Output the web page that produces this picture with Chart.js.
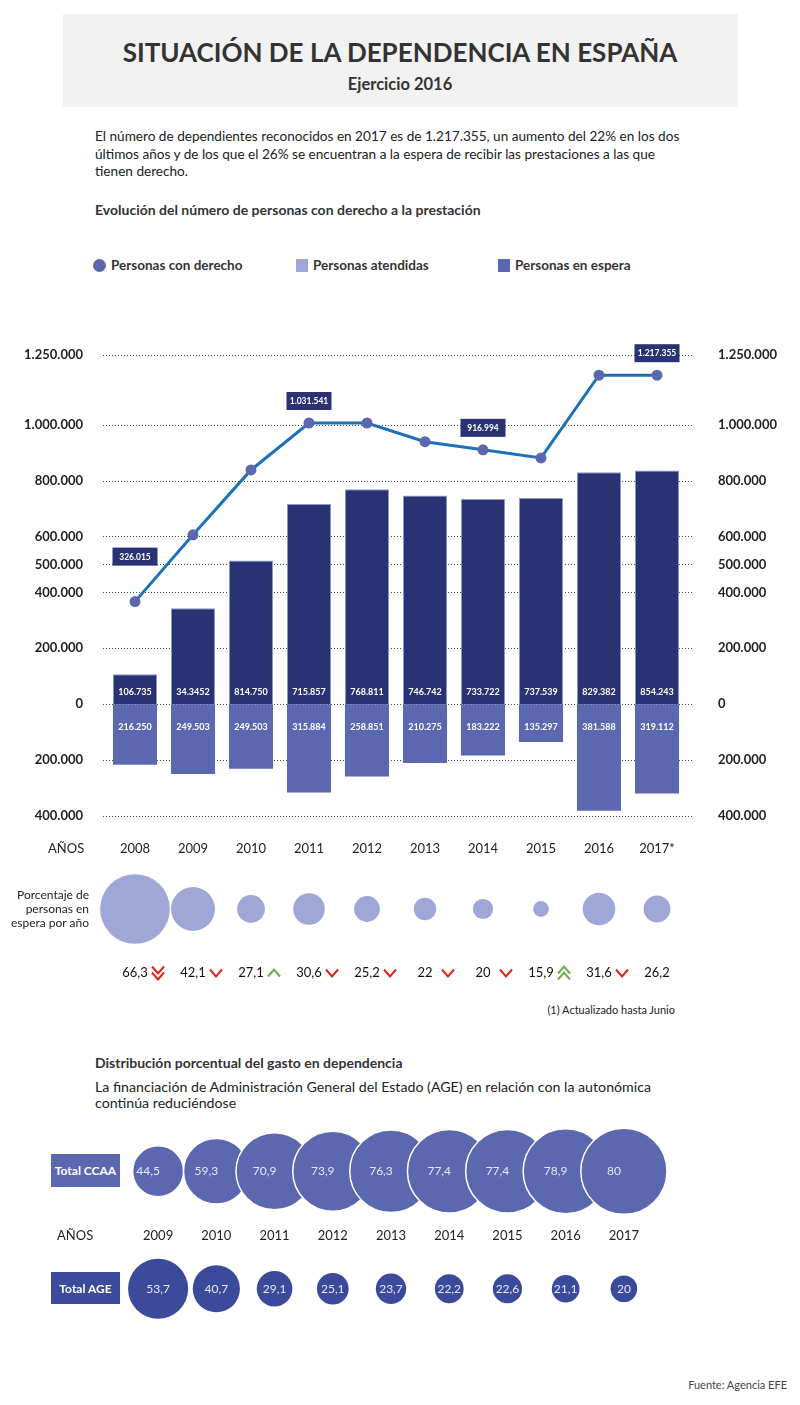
<!DOCTYPE html>
<html lang="es">
<head>
<meta charset="utf-8">
<title>Situación de la dependencia en España</title>
<script src="https://cdn.jsdelivr.net/npm/chart.js@4.4.1/dist/chart.umd.min.js"></script>
<style>
  body { margin: 0; background: #fff; font-family: Lato, "Open Sans", sans-serif; color: #222; }
  #page { position: relative; width: 800px; height: 1405px; overflow: hidden; }
  .t { position: absolute; white-space: nowrap; line-height: 1; }
  canvas { position: absolute; left: 0; }
  .box { position: absolute; color: #fff; font-size: 12px; font-weight: bold; display: flex; align-items: center; justify-content: center; }
  .legend { position: absolute; top: 257px; font-size: 13.5px; font-weight: bold; color: #333; line-height: 16px; }
  .legend span { display: inline-block; vertical-align: -2px; margin-right: 5px; }
</style>
</head>
<body>
<div id="page">
  <div style="position:absolute;left:63px;top:14px;width:675px;height:93px;background:#f2f2f2"></div>
  <div class="t" style="left:0;width:800px;text-align:center;top:39px;font-size:26px;font-weight:bold;color:#333">SITUACIÓN DE LA DEPENDENCIA EN ESPAÑA</div>
  <div class="t" style="left:0;width:800px;text-align:center;top:76px;font-size:16.5px;font-weight:bold;color:#333">Ejercicio 2016</div>

  <div class="t" style="left:95px;top:128px;font-size:13.6px;line-height:17.5px;color:#222">El número de dependientes reconocidos en 2017 es de 1.217.355, un aumento del 22% en los dos<br>últimos años y de los que el 26% se encuentran a la espera de recibir las prestaciones a las que<br>tienen derecho.</div>
  <div class="t" style="left:95px;top:203px;font-size:14px;font-weight:bold;color:#333">Evolución del número de personas con derecho a la prestación</div>

  <div class="legend" style="left:93px"><span style="width:13px;height:13px;border-radius:50%;background:#5b68af"></span>Personas con derecho</div>
  <div class="legend" style="left:296px"><span style="width:12px;height:13px;background:#9fa7d6"></span>Personas atendidas</div>
  <div class="legend" style="left:498px"><span style="width:12px;height:13px;background:#5b68af"></span>Personas en espera</div>

  <canvas id="main" width="800" height="565" style="top:315px"></canvas>
  <div class="t" style="left:48px;top:842px;font-size:13px;color:#222">AÑOS</div>

  <canvas id="pct" width="800" height="130" style="top:860px"></canvas>
  <div class="t" style="left:0;width:89px;text-align:right;top:888px;font-size:12px;line-height:14px;color:#222">Porcentaje de<br>personas en<br>espera por año</div>
  <div class="t" style="left:0;width:675px;text-align:right;top:1004px;font-size:11px;color:#222">(1) Actualizado hasta Junio</div>

  <div class="t" style="left:95px;top:1056px;font-size:14px;font-weight:bold;color:#333">Distribución porcentual del gasto en dependencia</div>
  <div class="t" style="left:95px;top:1079px;font-size:14.2px;line-height:16px;color:#222">La financiación de Administración General del Estado (AGE) en relación con la autonómica<br>continúa reduciéndose</div>

  <canvas id="gasto" width="800" height="225" style="top:1110px"></canvas>
  <div class="box" style="left:51px;top:1154px;width:69px;height:33px;background:#5b68af">Total CCAA</div>
  <div class="box" style="left:51px;top:1272px;width:69px;height:32px;background:#3c4a9c">Total AGE</div>
  <div class="t" style="left:57px;top:1229px;font-size:13px;color:#222">AÑOS</div>

  <div class="t" style="left:0;width:787px;text-align:right;top:1379px;font-size:11px;color:#444">Fuente: Agencia EFE</div>
</div>

<script>
// Evolución del número de personas con derecho a la prestación
const years = ['2008', '2009', '2010', '2011', '2012', '2013', '2014', '2015', '2016', '2017*'];
const atendidas = [106735, 343452, 514000, 715857, 768811, 746742, 733722, 737539, 829382, 836000];
const atendidasLabels = ['106.735', '34.3452', '814.750', '715.857', '768.811', '746.742', '733.722', '737.539', '829.382', '854.243'];
const espera = [216250, 249503, 231000, 315884, 258851, 210275, 183222, 135297, 381588, 319112];
const esperaLabels = ['216.250', '249.503', '249.503', '315.884', '258.851', '210.275', '183.222', '135.297', '381.588', '319.112'];
const conDerecho = [367000, 606000, 838000, 1006000, 1006000, 939000, 910000, 881000, 1177000, 1177000];
const callouts = ['326.015', '', '', '1.031.541', '', '', '916.994', '', '', '1.217.355'];
const yTicks = [1250000, 1000000, 800000, 600000, 500000, 400000, 200000, 0, -200000, -400000];

// Porcentaje de personas en espera por año
const pctEspera = [66.3, 42.1, 27.1, 30.6, 25.2, 22, 20, 15.9, 31.6, 26.2];
const pctLabels = ['66,3', '42,1', '27,1', '30,6', '25,2', '22', '20', '15,9', '31,6', '26,2'];
const trend = ['dd', 'd', 'u', 'd', 'd', 'd', 'd', 'uu', 'd', ''];

// Distribución porcentual del gasto
const yearsGasto = ['2009', '2010', '2011', '2012', '2013', '2014', '2015', '2016', '2017'];
const ccaa = [44.5, 59.3, 70.9, 73.9, 76.3, 77.4, 77.4, 78.9, 80];
const age = [53.7, 40.7, 29.1, 25.1, 23.7, 22.2, 22.6, 21.1, 20];

Chart.defaults.font.family = 'Lato, "Open Sans", sans-serif';
Chart.defaults.animation = false;
Chart.defaults.layout.autoPadding = false;
Chart.defaults.plugins.legend.display = false;
Chart.defaults.plugins.tooltip.enabled = false;

const NAVY = '#293272';
const MID = '#5b68af';
const fmt = v => String(Math.abs(v)).replace(/\B(?=(\d{3})+(?!\d))/g, '.');
const comma = v => String(v).replace('.', ',');

const dottedGrid = {
  id: 'dottedGrid',
  beforeDatasetsDraw(chart) {
    const { ctx, chartArea, scales: { y } } = chart;
    ctx.save();
    ctx.strokeStyle = '#444';
    ctx.lineWidth = 1;
    ctx.setLineDash([1, 2]);
    yTicks.forEach(v => {
      const py = Math.round(y.getPixelForValue(v)) + 0.5;
      ctx.beginPath();
      ctx.moveTo(chartArea.left - 3, py);
      ctx.lineTo(chartArea.right + 7, py);
      ctx.stroke();
    });
    ctx.restore();
  }
};

const mainLabels = {
  id: 'mainLabels',
  afterDatasetsDraw(chart) {
    const { ctx, scales: { x, y } } = chart;
    const zero = y.getPixelForValue(0);
    ctx.save();
    ctx.fillStyle = '#fff';
    ctx.font = 'bold 9px Lato';
    ctx.textAlign = 'center';
    ctx.textBaseline = 'middle';
    years.forEach((_, i) => {
      const px = x.getPixelForValue(i);
      ctx.fillText(atendidasLabels[i], px, zero - 12);
      ctx.fillText(esperaLabels[i], px, zero + 23);
    });
    // recuadros con el valor de la línea
    const pts = chart.getDatasetMeta(2).data;
    callouts.forEach((txt, i) => {
      if (!txt) return;
      const p = pts[i];
      const cy = p.y - (i === 0 ? 45 : 22);
      const w = 45, h = 18;
      ctx.fillStyle = NAVY;
      ctx.fillRect(p.x - w / 2, cy - h / 2, w, h);
      ctx.fillStyle = '#fff';
      ctx.font = 'bold 8.5px Lato';
      ctx.fillText(txt, p.x, cy + 0.5);
    });
    ctx.restore();
  }
};

const yTickOpts = pad => ({
  padding: pad,
  color: '#222',
  font: { size: 13, weight: 'bold' },
  callback: v => fmt(v)
});

new Chart(document.getElementById('main'), {
  data: {
    labels: years,
    datasets: [
      {
        type: 'bar', label: 'Personas atendidas', data: atendidas,
        backgroundColor: NAVY, borderColor: '#8f97cc', borderWidth: { top: 1, left: 1, right: 1, bottom: 0 },
        grouped: false, barPercentage: 0.76, categoryPercentage: 1, order: 2
      },
      {
        type: 'bar', label: 'Personas en espera', data: espera.map(v => -v),
        backgroundColor: MID, borderWidth: 0,
        grouped: false, barPercentage: 0.76, categoryPercentage: 1, order: 2
      },
      {
        type: 'line', label: 'Personas con derecho', data: conDerecho,
        borderColor: '#1d71b8', borderWidth: 3, tension: 0,
        pointRadius: 5.5, pointBackgroundColor: MID, pointBorderWidth: 0, order: 0
      }
    ]
  },
  options: {
    responsive: false,
    layout: { padding: { top: 24, left: 0, right: 0, bottom: 0 } },
    scales: {
      x: {
        offset: true,
        grid: { display: false, drawTicks: false },
        border: { display: false },
        ticks: { padding: 25, color: '#222', font: { size: 13 } },
        afterFit: s => { s.height = 64; }
      },
      y: {
        min: -400000, max: 1250000,
        afterBuildTicks: s => { s.ticks = yTicks.map(v => ({ value: v })); },
        afterFit: s => { s.width = 106; },
        grid: { display: false, drawTicks: false },
        border: { display: false },
        ticks: yTickOpts(23)
      },
      y2: {
        position: 'right',
        min: -400000, max: 1250000,
        afterBuildTicks: s => { s.ticks = yTicks.map(v => ({ value: v })); },
        afterFit: s => { s.width = 114; },
        grid: { display: false, drawTicks: false },
        border: { display: false },
        ticks: yTickOpts(32)
      }
    }
  },
  plugins: [dottedGrid, mainLabels]
});

// flechas de tendencia junto a los porcentajes
const chevron = (ctx, cx, cy, up) => {
  const d = up ? -1 : 1;
  ctx.beginPath();
  ctx.moveTo(cx - 6, cy - 3.5 * d);
  ctx.lineTo(cx, cy + 3.5 * d);
  ctx.lineTo(cx + 6, cy - 3.5 * d);
  ctx.stroke();
};

const trendArrows = {
  id: 'trendArrows',
  afterDraw(chart) {
    const { ctx, scales: { x } } = chart;
    const cy = x.top + 29;
    ctx.save();
    ctx.lineWidth = 2;
    trend.forEach((t, i) => {
      if (!t) return;
      const cx = x.getPixelForValue(i) + 23;
      const up = t[0] === 'u';
      ctx.strokeStyle = up ? '#6ab04c' : '#e2231a';
      if (t.length === 2) {
        chevron(ctx, cx, cy - 3, up);
        chevron(ctx, cx, cy + 3, up);
      } else {
        chevron(ctx, cx, cy, up);
      }
    });
    ctx.restore();
  }
};

new Chart(document.getElementById('pct'), {
  type: 'bubble',
  data: {
    labels: years,
    datasets: [{
      data: years.map(yr => ({ x: yr, y: 0 })),
      radius: ctx => 0.535 * pctEspera[ctx.dataIndex] - 0.6,
      backgroundColor: '#9fa7d6', borderWidth: 0, clip: false
    }]
  },
  options: {
    responsive: false,
    layout: { padding: { top: 14, left: 106, right: 114, bottom: 0 } },
    scales: {
      x: {
        type: 'category', offset: true,
        grid: { display: false, drawTicks: false },
        border: { display: false },
        ticks: { padding: 21, color: '#111', font: { size: 13 }, callback: (v, i) => pctLabels[i] },
        afterFit: s => { s.height = 46; }
      },
      y: { min: -1, max: 1, display: false }
    }
  },
  plugins: [trendArrows]
});

const rGasto = v => 3.4 + 0.496 * v;

const gastoLabels = {
  id: 'gastoLabels',
  afterDatasetsDraw(chart) {
    const { ctx } = chart;
    ctx.save();
    ctx.fillStyle = '#e6e8f4';
    ctx.font = '12px Lato';
    ctx.textAlign = 'center';
    ctx.textBaseline = 'middle';
    chart.getDatasetMeta(0).data.forEach((p, i) => ctx.fillText(comma(ccaa[i]), p.x - 10, p.y));
    chart.getDatasetMeta(1).data.forEach((p, i) => ctx.fillText(comma(age[i]), p.x, p.y));
    ctx.restore();
  }
};

new Chart(document.getElementById('gasto'), {
  type: 'bubble',
  data: {
    labels: yearsGasto,
    datasets: [
      {
        label: 'Total CCAA',
        data: yearsGasto.map(yr => ({ x: yr, y: 1 })),
        radius: ctx => rGasto(ccaa[ctx.dataIndex]),
        backgroundColor: MID, borderColor: '#fff', borderWidth: 1.5, clip: false
      },
      {
        label: 'Total AGE',
        data: yearsGasto.map(yr => ({ x: yr, y: 0 })),
        radius: ctx => rGasto(age[ctx.dataIndex]),
        backgroundColor: '#3c4a9c', borderWidth: 0, clip: false
      }
    ]
  },
  options: {
    responsive: false,
    layout: { padding: { top: 26, left: 129, right: 147, bottom: 11 } },
    scales: {
      x: {
        type: 'category', offset: true,
        position: { y: 0.587 },
        grid: { display: false, drawTicks: false },
        border: { display: false },
        ticks: { padding: 8, color: '#222', font: { size: 13 } },
        afterFit: s => { s.height = 0; }
      },
      y: { min: -0.3, max: 1.3, display: false }
    }
  },
  plugins: [gastoLabels]
});
</script>
</body>
</html>
